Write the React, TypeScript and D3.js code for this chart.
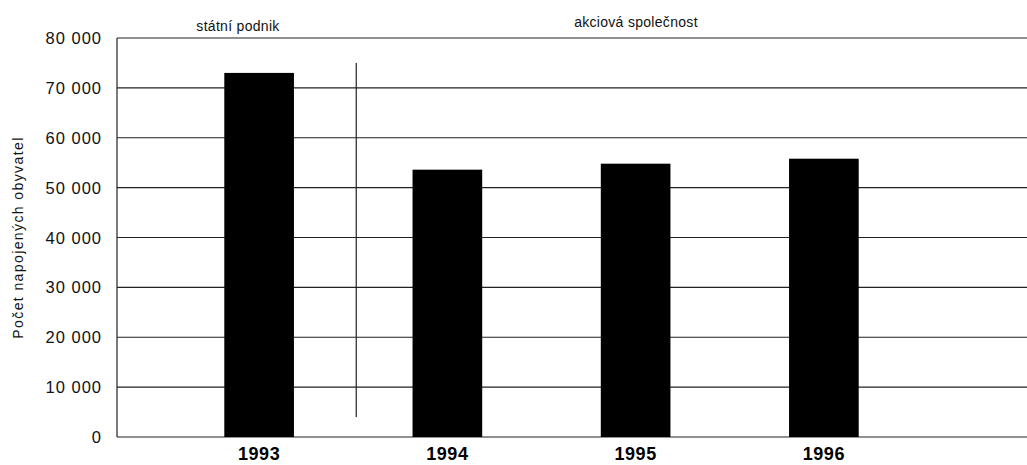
import { useEffect, useRef } from 'react';
import * as d3 from 'd3';

const years = ['1993', '1994', '1995', '1996'];
const residents = [73000, 53600, 54800, 55800];
const yTicks = [0, 10000, 20000, 30000, 40000, 50000, 60000, 70000, 80000];
const ownership = ['státní podnik', 'akciová společnost'];

const App = () => {
  const svgRef = useRef<SVGSVGElement>(null);

  useEffect(() => {
    if (!svgRef.current) return;
    d3.select(svgRef.current).selectAll('*').remove();

    const width = 1027;
    const height = 465;
    const margin = { top: 38, right: 0, bottom: 28, left: 117 };
    const font = 'Liberation Sans, Arial, sans-serif';

    const svg = d3.select(svgRef.current)
      .attr('width', width)
      .attr('height', height)
      .style('font-family', font);

    const x = d3.scaleBand()
      .domain(years)
      .range([165, 918])
      .paddingInner(0.63)
      .paddingOuter(0.315);

    const y = d3.scaleLinear()
      .domain([0, 80000])
      .range([height - margin.bottom, margin.top]);

    const fmt = (d: number) => d === 0 ? '0' : d3.format(',')(d).replace(/,/g, ' ');

    // gridlines
    svg.append('g')
      .selectAll('line')
      .data(yTicks)
      .enter()
      .append('line')
      .attr('x1', margin.left)
      .attr('x2', width - margin.right)
      .attr('y1', d => y(d))
      .attr('y2', d => y(d))
      .attr('stroke', '#222')
      .attr('stroke-width', 1.2);

    // y axis line
    svg.append('line')
      .attr('x1', margin.left)
      .attr('x2', margin.left)
      .attr('y1', y(80000))
      .attr('y2', y(0))
      .attr('stroke', '#222')
      .attr('stroke-width', 1.2);

    // tick labels
    svg.append('g')
      .selectAll('text')
      .data(yTicks)
      .enter()
      .append('text')
      .attr('x', 102)
      .attr('y', d => y(d) + 6)
      .attr('text-anchor', 'end')
      .attr('font-size', 16.5)
      .attr('letter-spacing', 1)
      .attr('fill', '#111')
      .text(d => fmt(d));

    // axis title
    svg.append('text')
      .attr('transform', `translate(23,${(y(0) + y(80000)) / 2}) rotate(-90)`)
      .attr('text-anchor', 'middle')
      .attr('font-size', 14)
      .attr('letter-spacing', 1.4)
      .attr('fill', '#111')
      .text('Počet napojených obyvatel');

    // bars
    svg.append('g')
      .selectAll('rect')
      .data(years.map((yr, i) => ({ yr, v: residents[i] })))
      .enter()
      .append('rect')
      .attr('x', d => x(d.yr) || 0)
      .attr('y', d => y(d.v))
      .attr('width', x.bandwidth())
      .attr('height', d => y(0) - y(d.v))
      .attr('fill', '#000');

    // year labels
    svg.append('g')
      .selectAll('text')
      .data(years)
      .enter()
      .append('text')
      .attr('x', d => (x(d) || 0) + x.bandwidth() / 2)
      .attr('y', height - 5)
      .attr('text-anchor', 'middle')
      .attr('font-size', 18)
      .attr('font-weight', 'bold')
      .attr('letter-spacing', 0.5)
      .attr('fill', '#000')
      .text(d => d);

    // divider between ownership periods
    const divX = ((x('1993') || 0) + x.bandwidth() + (x('1994') || 0)) / 2 + 3;
    svg.append('line')
      .attr('x1', divX)
      .attr('x2', divX)
      .attr('y1', y(75000))
      .attr('y2', y(4000))
      .attr('stroke', '#222')
      .attr('stroke-width', 1.2);

    // ownership labels
    const labelPos = [
      { cx: 238, by: 31 },
      { cx: 636, by: 27 },
    ];
    svg.append('g')
      .selectAll('text')
      .data(ownership)
      .enter()
      .append('text')
      .attr('x', (_d, i) => labelPos[i].cx)
      .attr('y', (_d, i) => labelPos[i].by)
      .attr('text-anchor', 'middle')
      .attr('font-size', 14)
      .attr('letter-spacing', 0.3)
      .attr('fill', '#111')
      .text(d => d);
  }, []);

  return (
    <svg ref={svgRef} style={{ position: 'absolute', left: 0, top: 0, background: '#fff' }} />
  );
};

export default App;
